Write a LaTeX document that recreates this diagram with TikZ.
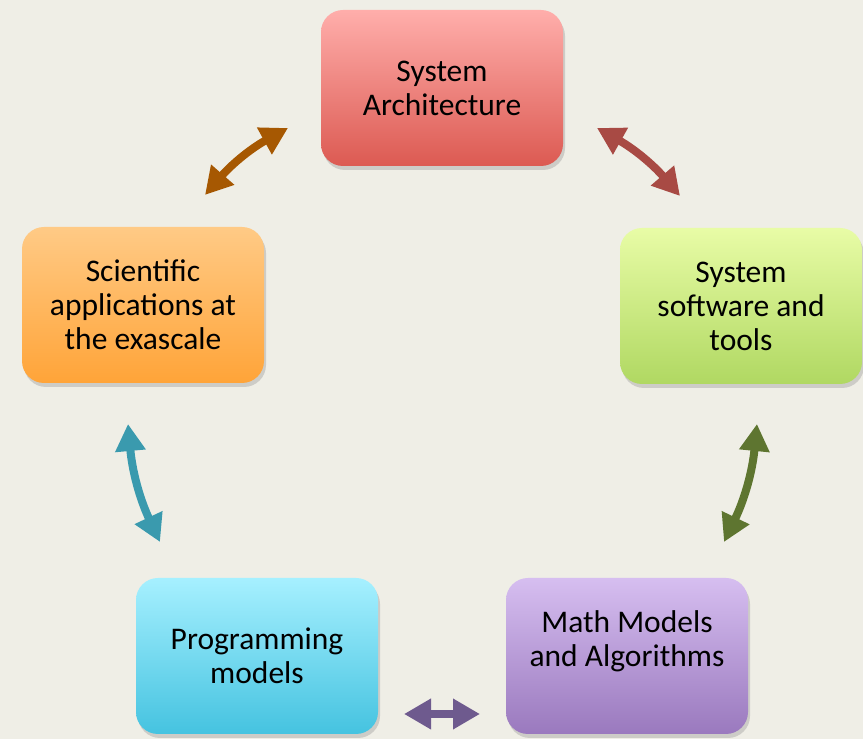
\documentclass[tikz,border=0pt]{standalone}
\usepackage{fontspec}
\setmainfont{Carlito}
\usepackage{tikz}
\usetikzlibrary{arrows.meta,shadows,positioning}
\definecolor{bgbeige}{RGB}{239,238,230}
\definecolor{archtop}{RGB}{255,174,171}
\definecolor{archbot}{RGB}{220,90,82}
\definecolor{scitop}{RGB}{255,202,134}
\definecolor{scibot}{RGB}{255,164,56}
\definecolor{softtop}{RGB}{232,252,166}
\definecolor{softbot}{RGB}{176,216,98}
\definecolor{progtop}{RGB}{166,240,255}
\definecolor{progbot}{RGB}{69,195,224}
\definecolor{mathtop}{RGB}{214,190,240}
\definecolor{mathbot}{RGB}{154,121,190}
\definecolor{linkbrown}{RGB}{166,88,2}
\definecolor{linkred}{RGB}{168,74,68}
\definecolor{linkgreen}{RGB}{94,117,48}
\definecolor{linkpurple}{RGB}{110,90,142}
\definecolor{linkteal}{RGB}{58,154,174}

\begin{document}
\begin{tikzpicture}[x=1pt, y=1pt, font=\fontsize{31.5}{34}\selectfont,
    box/.style={rectangle, rounded corners=22pt, minimum width=242pt, minimum height=156pt, align=center,
      drop shadow={shadow xshift=2pt, shadow yshift=-4pt, opacity=0.3}},
    link/.style={line width=8pt, {Triangle[length=27pt,width=29pt]}-{Triangle[length=27pt,width=29pt]}}]
        \fill[bgbeige] (0,0) rectangle (863,739);
        \useasboundingbox (0,0) rectangle (863,739);

        \node[box, top color=archtop, bottom color=archbot] (arch) at (442,651) {System\\Architecture};
        \node[box, top color=scitop, bottom color=scibot] (sci) at (143,434) {Scientific\\applications at\\the exascale};
        \node[box, top color=softtop, bottom color=softbot] (soft) at (741,433) {System\\software and\\tools};
        \node[box, top color=progtop, bottom color=progbot] (prog) at (257,83) {Programming\\models};
        \node[box, top color=mathtop, bottom color=mathbot] (math) at (627,83) {Math Models\\and Algorithms\\\mbox{}};

        % arrow ends between the boxes
        \coordinate (sciout) at (205,544);
        \coordinate (archin) at (288,611);
        \coordinate (archout) at (597,611);
        \coordinate (softin) at (680,543);
        \coordinate (softout) at (757,315);
        \coordinate (mathin) at (724,197);
        \coordinate (mathout) at (480,25);
        \coordinate (progin) at (404,25);
        \coordinate (progout) at (160,197);
        \coordinate (sciin) at (128,315);

        \draw[link, linkbrown] (sciout) to[bend left=10] (archin);
        \draw[link, linkred] (archout) to[bend left=10] (softin);
        \draw[link, linkgreen] (softout) to[bend left=10] (mathin);
        \draw[link, linkpurple] (mathout) -- (progin);
        \draw[link, linkteal] (progout) to[bend left=10] (sciin);
      \end{tikzpicture}
\end{document}
